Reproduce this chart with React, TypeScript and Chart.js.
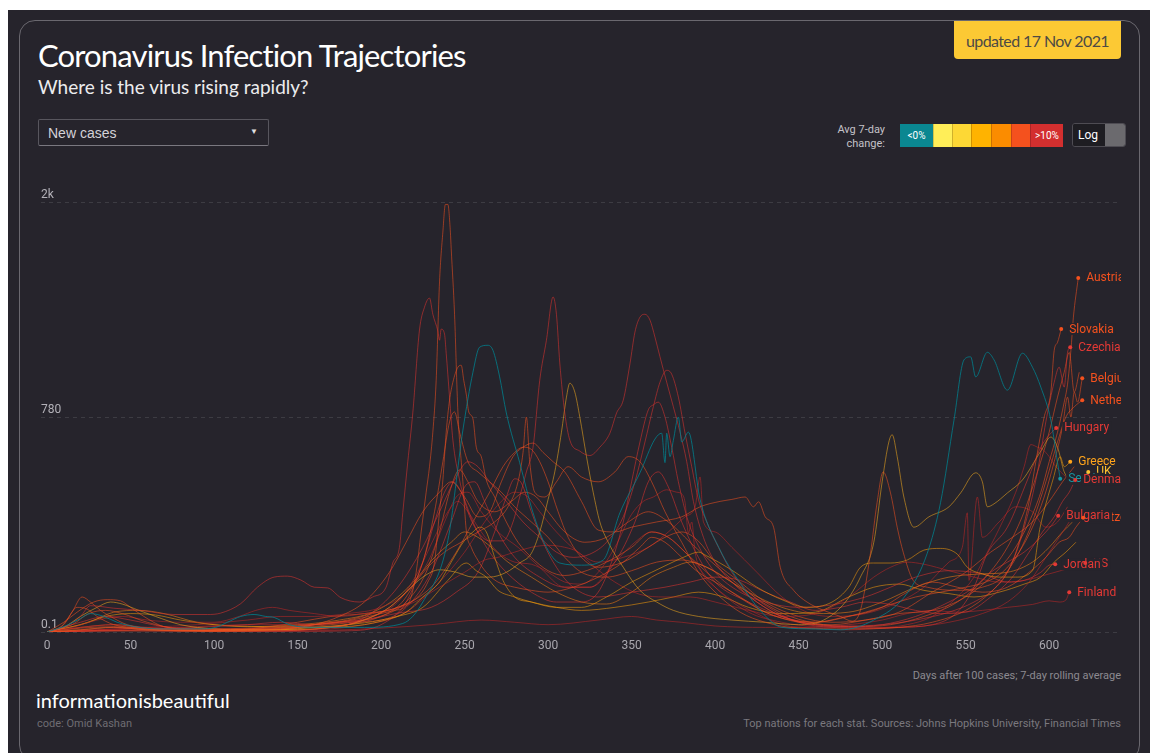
import React, { useEffect, useRef } from "react";
import { Chart, LineController, LineElement, PointElement, LinearScale } from "chart.js";

type Pt = [number, number];

// ---------- data: [day after 100 cases, new cases per million (7-day avg)] ----------
const austria: Pt[] = [[0,0.1],[10,9],[18,44],[24,40],[30,24],[40,9],[55,4],[80,1],[110,2],[140,5],[160,9],[180,17],[195,30],[210,44],[222,70],[228,112],[232,175],[235,360],[237,492],[239,708],[241,863],[243,953],[246,1030],[248,1040],[249.5,963],[251,893],[252.5,805],[255,772],[257,638],[260,595],[263,492],[268,420],[275,320],[282,244],[290,191],[300,147],[310,132],[320,142],[335,175],[350,226],[362,282],[372,262],[382,209],[395,142],[410,83],[430,33],[450,13],[470,9],[490,17],[510,30],[530,37],[550,70],[565,127],[578,209],[588,320],[595,440],[600,572],[605,708],[609,853],[611,943],[613,1118],[614.5,1297],[617.4,1517]];
const slovakia: Pt[] = [[0,0.1],[30,1],[60,1],[100,0.5],[140,1],[170,5],[190,17],[205,44],[218,97],[228,158],[238,209],[248,244],[258,282],[268,320],[276,380],[282,484],[285,614],[287,780],[289,572],[292,440],[298,420],[305,484],[312,550],[320,505],[330,484],[340,527],[348,595],[355,572],[362,484],[370,360],[380,244],[390,142],[400,83],[415,33],[430,13],[450,4],[480,3],[510,5],[530,13],[550,37],[565,83],[575,142],[582,244],[588,402],[592,572],[597,780],[601,903],[603,1118],[605,1161],[607.2,1232]];
const czechia: Pt[] = [[0,0.1],[10,5],[20,24],[26,48],[40,42],[56,37],[76,28],[96,28],[104,31],[116,53],[126,97],[136,127],[144,130],[152,118],[160,97],[168,95],[176,68],[187,57],[195,70],[203,97],[207,172],[211,226],[213,356],[216,572],[219,800],[223,1227],[226,1352],[229,1403],[231,1313],[234,1221],[235,1172],[236,1232],[238,1205],[239,1103],[241,878],[243,671],[247,492],[252,360],[258,282],[265,249],[273,249],[279,320],[283,420],[287,527],[291,638],[295,963],[299,1172],[303,1409],[305,1313],[307,1052],[310,800],[313,671],[319,620],[325,600],[331,638],[337,703],[341,800],[345,863],[349,1047],[352,1216],[355,1297],[358,1313],[361,1281],[364,1188],[367,1084],[371,953],[375,830],[379,708],[383,572],[387,402],[393,262],[400,175],[410,112],[425,57],[440,24],[460,9],[480,7],[500,9],[520,17],[540,33],[555,57],[568,97],[578,175],[586,320],[593,527],[598,757],[603,953],[606,1030],[609,928],[611,1108],[612.6,1135]];
const belgium: Pt[] = [[0,0.1],[8,5],[15,33],[21,70],[26,57],[32,37],[38,24],[48,9],[60,4],[80,3],[100,3],[120,4],[140,6],[160,9],[175,13],[190,22],[200,30],[208,37],[214,44],[218,70],[221,142],[224,282],[227,440],[229,550],[231,708],[233,963],[235,1494],[237,1784],[238.5,1950],[240,1950],[241.5,1784],[242,1685],[244,1313],[246,805],[249,484],[251,289],[254,226],[258,181],[263,142],[270,112],[280,97],[290,88],[300,83],[315,97],[330,127],[345,175],[355,226],[362,262],[370,244],[380,191],[390,142],[400,112],[415,70],[430,33],[445,17],[460,13],[475,21],[490,33],[505,51],[520,70],[535,83],[550,97],[562,112],[572,142],[582,209],[590,300],[597,420],[603,572],[608,733],[611,878],[613,780],[615,903],[617,853],[619.8,973]];
const netherlands: Pt[] = [[0,0.1],[15,9],[25,30],[35,37],[45,30],[60,13],[80,3],[110,2],[140,3],[160,9],[175,24],[190,57],[205,142],[215,244],[225,360],[235,440],[242,484],[250,420],[258,340],[265,360],[272,484],[279,595],[285,638],[291,657],[297,614],[303,572],[310,527],[320,402],[330,289],[340,282],[350,300],[365,320],[380,340],[391,380],[403,402],[410,410],[418,420],[423,380],[426,400],[430,340],[435,300],[439,158],[447,88],[455,57],[465,37],[475,24],[482,15],[487,37],[493,205],[497,398],[500.6,527],[505,437],[509,300],[512.6,209],[518.6,117],[527,97],[545,88],[560,97],[572,127],[582,209],[590,320],[598,484],[605,662],[610,780],[615,830],[619.8,863]];
const hungary: Pt[] = [[0,0.1],[20,2],[40,5],[60,2],[100,1],[140,1],[165,4],[180,9],[195,33],[210,97],[225,226],[235,360],[245,505],[252,572],[258,550],[265,484],[275,402],[285,320],[295,262],[305,209],[315,191],[325,202],[335,244],[345,340],[352,484],[358,662],[363,830],[367,953],[371,1014],[374,994],[378,878],[382,703],[386,550],[390,410],[395,320],[402,226],[410,142],[420,83],[435,37],[450,13],[470,5],[490,4],[510,5],[530,9],[545,33],[555,97],[563,205],[575,300],[587,492],[595,638],[599,685],[604.2,728]];
const greece: Pt[] = [[0,0.1],[20,2],[40,5],[60,2],[100,1],[140,2],[160,5],[180,9],[200,17],[215,33],[225,70],[235,112],[242,175],[250,251],[255,282],[259,300],[263,282],[268,191],[273,117],[280,70],[290,57],[305,44],[320,44],[335,70],[350,112],[362,142],[372,168],[383,196],[390,209],[395,196],[402,175],[412,142],[425,97],[440,63],[455,44],[470,57],[480,97],[487,158],[495,172],[505,172],[515,182],[525,216],[535,222],[545,202],[551,158],[560,137],[570,127],[580,127],[590,147],[594.6,300],[602.4,497],[606.6,595],[609,550],[612.6,572]];
const uk: Pt[] = [[0,0.1],[10,5],[20,24],[30,44],[38,57],[45,52],[55,37],[65,24],[80,9],[100,3],[120,2],[140,2],[160,3],[180,9],[195,24],[205,44],[215,83],[225,127],[235,150],[245,142],[255,127],[265,127],[275,142],[283,172],[290,205],[295,282],[300,410],[304,527],[308,708],[311,878],[313,948],[316,903],[319,780],[323,595],[327,440],[331,320],[336,244],[345,158],[355,88],[365,57],[375,37],[390,24],[410,17],[430,13],[450,9],[465,17],[478,57],[487,127],[495,244],[500,484],[504,662],[506,696],[509,595],[513,420],[519,300],[528,340],[540,380],[547,437],[556,523],[560,484],[563,380],[567,392],[575,437],[584,492],[595,620],[601,685],[605,638],[609,527],[614,484],[618,476],[623.4,527]];
const serbia: Pt[] = [[0,0.1],[12,8],[20,20],[26,30],[34,24],[42,13],[55,5],[70,3],[90,3],[101,5],[108,13],[116,24],[124,28],[131,24],[136,22],[145,9],[160,5],[190,5],[213,11],[225,57],[240,251],[249,718],[255,1004],[259,1135],[264,1145],[267,1118],[271,980],[275,800],[283,568],[291,356],[299,226],[307,172],[320,165],[333,182],[343,356],[355,523],[364,676],[368,703],[370,568],[371,703],[373,595],[375,670],[378,780],[380,662],[384,708],[391,410],[403,216],[415,109],[427,37],[440,5],[460,3],[475,2],[495,17],[515,80],[527,205],[535,398],[543,765],[549,1068],[553,1084],[556,980],[563,1108],[567,1068],[575,913],[584,1103],[590,1030],[595,928],[601,765],[605,568],[606.6,497]];
const denmark: Pt[] = [[0,0.1],[20,13],[35,24],[50,17],[70,6],[100,3],[140,3],[170,13],[190,17],[210,31],[230,44],[245,83],[258,142],[268,282],[275,420],[280,497],[284,479],[290,360],[297,244],[305,158],[315,97],[330,70],[350,83],[370,97],[385,112],[400,127],[415,117],[430,83],[445,57],[460,37],[475,44],[490,57],[505,51],[520,37],[535,30],[550,33],[565,70],[578,127],[588,209],[596,282],[603,340],[608,402],[612,440],[615.6,492]];
const bulgaria: Pt[] = [[0,0.1],[30,1],[60,2],[90,5],[120,9],[140,13],[160,9],[180,13],[200,17],[215,44],[230,142],[242,320],[250,462],[256,484],[262,402],[270,282],[280,191],[295,127],[310,97],[325,97],[340,175],[352,320],[360,484],[366,527],[372,462],[380,320],[390,191],[400,112],[420,57],[440,24],[460,9],[480,6],[500,9],[520,24],[540,57],[555,97],[565,142],[575,175],[585,209],[592,244],[598,282],[602,312],[605.4,344]];
const switzerland: Pt[] = [[0,0.1],[10,13],[18,33],[28,57],[36,63],[44,60],[50,44],[58,24],[70,6],[100,1],[130,3],[150,5],[170,9],[190,17],[205,33],[215,70],[225,175],[232,360],[237,572],[241,757],[244,805],[247,708],[252,572],[258,527],[265,484],[272,440],[280,380],[290,320],[300,262],[310,191],[320,142],[335,127],[350,147],[365,175],[380,182],[395,158],[410,112],[425,57],[440,24],[460,13],[480,24],[500,44],[515,83],[530,112],[545,97],[560,83],[575,97],[588,142],[598,191],[606,244],[612,262],[616,300],[620.4,336]];
const jordan: Pt[] = [[0,0.1],[50,1],[100,0.5],[150,0.5],[180,1],[200,9],[215,57],[225,175],[232,320],[238,440],[243,484],[248,440],[255,320],[265,209],[275,142],[290,83],[305,57],[320,57],[330,83],[338,175],[345,320],[350,484],[355,662],[360,815],[363,840],[366,853],[370,780],[374,638],[378,484],[384,320],[392,209],[400,142],[415,83],[430,57],[450,44],[470,50],[490,70],[505,97],[520,127],[540,147],[560,137],[575,112],[585,117],[595,142],[600,165],[603.6,168]];
const us: Pt[] = [[0,0.1],[15,5],[30,17],[45,24],[60,17],[80,13],[100,13],[115,24],[125,37],[135,44],[145,37],[160,30],[175,24],[190,30],[205,37],[220,57],[235,97],[250,142],[262,182],[270,191],[280,209],[290,226],[300,233],[310,226],[318,209],[328,158],[340,112],[355,77],[370,70],[385,70],[400,57],[420,37],[440,24],[460,30],[480,70],[495,127],[505,158],[515,175],[525,168],[540,147],[555,127],[570,112],[585,117],[600,137],[612,155],[621.6,172]];
const finland: Pt[] = [[0,0.1],[20,5],[40,9],[60,5],[100,1],[150,1],[200,4],[230,9],[260,17],[280,13],[300,9],[330,17],[350,24],[365,17],[380,13],[400,7],[430,5],[460,5],[480,9],[500,17],[515,30],[530,37],[545,33],[560,37],[575,44],[590,51],[600,60],[606,57],[610,62],[612,83]];
const romania: Pt[] = [[0,0.1],[30,2],[60,5],[90,9],[120,17],[140,24],[160,24],[180,30],[200,44],[215,83],[228,175],[238,320],[245,420],[252,440],[260,360],[270,282],[282,226],[295,158],[310,97],[325,97],[340,175],[352,244],[362,282],[372,262],[385,191],[400,97],[420,33],[440,13],[460,6],[480,5],[500,5],[515,9],[530,24],[545,70],[555,127],[563,209],[572,320],[580,440],[585,550],[589,650],[593,638],[596,628],[600,595],[604,550],[610,505]];
const poland: Pt[] = [[0,0.1],[40,2],[80,5],[120,9],[150,9],[175,13],[195,24],[210,57],[222,142],[232,262],[240,360],[246,402],[252,360],[260,282],[270,209],[280,175],[290,168],[300,142],[310,112],[320,106],[330,142],[340,226],[350,350],[357,402],[363,420],[371,450],[377,440],[380,433],[382,398],[384,278],[386,320],[388,209],[392,142],[400,97],[412,57],[425,30],[440,9],[460,4],[480,2],[500,4],[520,6],[540,13],[560,30],[575,57],[588,112],[598,191],[606,262],[612,320]];
const croatia: Pt[] = [[0,0.1],[20,5],[40,9],[60,4],[100,1],[130,5],[150,13],[170,24],[190,30],[210,44],[230,97],[245,209],[255,320],[265,440],[273,550],[280,614],[285,638],[290,628],[295,572],[300,484],[306,360],[312,262],[320,191],[330,158],[345,175],[360,226],[370,262],[380,282],[390,248],[400,175],[415,112],[430,57],[450,24],[470,13],[490,17],[510,33],[530,83],[550,142],[565,209],[578,262],[590,320],[600,402],[608,484],[615,550]];
const slovenia: Pt[] = [[0,0.1],[20,4],[40,6],[70,2],[110,1],[150,4],[180,9],[200,24],[215,57],[227,142],[235,282],[241,440],[247,536],[252,484],[258,402],[268,360],[278,402],[286,440],[293,420],[300,360],[310,282],[322,244],[335,262],[348,320],[360,360],[372,320],[385,244],[398,175],[412,112],[428,57],[445,24],[465,9],[485,6],[505,9],[525,24],[545,57],[562,127],[575,226],[585,360],[593,527],[600,708],[605,878],[609,1004],[612,1108],[615,903],[618,1004]];
const portugal: Pt[] = [[0,0.1],[20,9],[35,24],[50,30],[65,27],[80,17],[100,9],[130,6],[160,5],[190,9],[210,24],[225,44],[240,117],[251,172],[257,147],[263,127],[270,88],[280,70],[290,57],[305,44],[320,37],[340,44],[360,57],[375,70],[390,83],[405,70],[420,44],[440,30],[460,33],[480,70],[495,97],[510,106],[525,88],[540,79],[555,70],[570,83],[585,106],[595,127],[603,175],[610,209],[616,244]];
const ireland: Pt[] = [[0,0.1],[25,13],[40,33],[55,37],[70,30],[90,13],[120,6],[150,9],[175,17],[195,33],[210,70],[222,127],[232,191],[242,244],[250,282],[258,262],[266,226],[276,175],[290,127],[305,83],[320,57],[335,52],[350,83],[362,127],[375,158],[385,175],[395,158],[405,127],[420,83],[440,44],[460,30],[480,33],[500,57],[520,97],[540,127],[560,137],[575,142],[590,175],[600,226],[608,282],[614,320]];
const lithuania: Pt[] = [[0,0.1],[30,2],[60,4],[100,2],[150,2],[190,9],[215,33],[235,112],[250,209],[262,320],[272,402],[280,440],[288,420],[295,360],[305,282],[318,209],[330,175],[345,191],[360,226],[372,282],[382,340],[388,380],[391,505],[393,320],[400,282],[410,226],[425,142],[440,70],[455,33],[470,24],[490,30],[510,57],[525,97],[540,175],[548,226],[551,356],[552,117],[557,420],[560,262],[570,320],[580,380],[590,360],[598,300],[605,320],[611,380]];

// ---------- axes ----------
const xMax = 643;
const xTickStep = 50;
const yMin = 0.1;
const yMax = 1965;
const yTickValues = [0.1, 780, 1965];
const yTickLabels = ["0.1", "780", "2k"];

// ---------- legend ----------
const legendColors = ["#0a8791", "#ffee58", "#fdd835", "#ffb300", "#fb8c00", "#f4511e", "#d32f2f"];
const legendWidths = [33, 19, 19, 20, 20, 19, 33];
const legendTexts = ["<0%", "", "", "", "", "", ">10%"];

const BG = "#26242c";

const RED = "222,52,48";
const DARK_RED = "190,40,40";
const ORANGE_RED = "240,80,32";
const AMBER = "245,155,10";
const UKC = "240,170,30";
const ORANGE = "240,125,20";
const TEAL = "0,131,143";

type Series = { name: string; data: Pt[]; rgb: string; text?: string; label: boolean };

const series: Series[] = [
  { name: "Serbia", data: serbia, rgb: TEAL, text: "#1597a1", label: true },
  { name: "Austria", data: austria, rgb: ORANGE_RED, text: "#f4511e", label: true },
  { name: "Slovakia", data: slovakia, rgb: ORANGE_RED, text: "#f4511e", label: true },
  { name: "Czechia", data: czechia, rgb: RED, text: "#e53935", label: true },
  { name: "Belgium", data: belgium, rgb: ORANGE_RED, text: "#f4511e", label: true },
  { name: "Netherlands", data: netherlands, rgb: ORANGE_RED, text: "#f4511e", label: true },
  { name: "Hungary", data: hungary, rgb: RED, text: "#e53935", label: true },
  { name: "Greece", data: greece, rgb: AMBER, text: "#ffa41b", label: true },
  { name: "UK", data: uk, rgb: UKC, text: "#fdc02f", label: true },
  { name: "Denmark", data: denmark, rgb: RED, text: "#e53935", label: true },
  { name: "Bulgaria", data: bulgaria, rgb: RED, text: "#e53935", label: true },
  { name: "Switzerland", data: switzerland, rgb: ORANGE_RED, text: "#f4511e", label: true },
  { name: "Jordan", data: jordan, rgb: RED, text: "#e53935", label: true },
  { name: "US", data: us, rgb: DARK_RED, text: "#e53935", label: true },
  { name: "Finland", data: finland, rgb: DARK_RED, text: "#e53935", label: true },
  { name: "Romania", data: romania, rgb: DARK_RED, label: false },
  { name: "Poland", data: poland, rgb: DARK_RED, label: false },
  { name: "Croatia", data: croatia, rgb: ORANGE_RED, label: false },
  { name: "Slovenia", data: slovenia, rgb: ORANGE_RED, label: false },
  { name: "Portugal", data: portugal, rgb: AMBER, label: false },
  { name: "Ireland", data: ireland, rgb: ORANGE, label: false },
  { name: "Lithuania", data: lithuania, rgb: DARK_RED, label: false },
];

const labelOrder = ["Austria", "Slovakia", "Czechia", "Belgium", "Netherlands", "Hungary", "Greece", "UK", "Serbia", "Switzerland", "US", "Finland", "Denmark", "Bulgaria", "Jordan"];

// ---------- power scale (exponent 0.75) ----------
const K = 0.75;
class PowScale extends LinearScale {
  static id = "pow";
  _pmin = 0;
  _pmax = 1;
  configure() {
    super.configure();
    this._pmin = Math.pow(Math.max(this.min, 0), K);
    this._pmax = Math.pow(Math.max(this.max, 0), K);
  }
  getPixelForValue(value: number) {
    if (value === null || value === undefined || isNaN(value)) return NaN;
    const p = Math.pow(Math.max(value, 0), K);
    return this.getPixelForDecimal((p - this._pmin) / (this._pmax - this._pmin));
  }
  getValueForPixel(pixel: number) {
    const d = this.getDecimalForPixel(pixel);
    return Math.pow(this._pmin + d * (this._pmax - this._pmin), 1 / K);
  }
}

Chart.register(LineController, LineElement, PointElement, LinearScale, PowScale as any);

const gridPlugin = {
  id: "yGridLabels",
  beforeDatasetsDraw(chart: any) {
    const { ctx, chartArea, scales } = chart;
    const y = scales.y;
    ctx.save();
    ctx.lineWidth = 1;
    ctx.setLineDash([4, 4]);
    ctx.strokeStyle = "rgba(255,255,255,0.11)";
    yTickValues.forEach((v, i) => {
      const py = Math.round(y.getPixelForValue(v)) + 0.5;
      ctx.beginPath();
      ctx.moveTo(chartArea.left - 6, py);
      ctx.lineTo(chartArea.right, py);
      ctx.stroke();
      ctx.fillStyle = "#b3b1b8";
      ctx.font = "12px Roboto";
      ctx.textAlign = "left";
      ctx.textBaseline = "middle";
      ctx.fillText(yTickLabels[i], chartArea.left - 6, py - 8);
    });
    ctx.restore();
  },
};

const endLabelPlugin = {
  id: "endLabels",
  afterDatasetsDraw(chart: any) {
    const { ctx, chartArea } = chart;
    ctx.save();
    ctx.beginPath();
    ctx.rect(chartArea.left, chartArea.top - 40, chartArea.right - chartArea.left, chartArea.bottom - chartArea.top + 40);
    ctx.clip();
    ctx.font = "12px Roboto";
    ctx.textBaseline = "middle";
    ctx.textAlign = "left";
    const pts: { x: number; y: number; c: string }[] = [];
    labelOrder.forEach((name) => {
      const idx = series.findIndex((s) => s.name === name);
      if (idx < 0) return;
      const meta = chart.getDatasetMeta(idx);
      const el = meta.data[meta.data.length - 1];
      if (!el) return;
      const s = series[idx];
      const tx = el.x + 8;
      const w = ctx.measureText(name).width;
      ctx.fillStyle = BG;
      ctx.fillRect(tx - 2, el.y - 6, w + 4, 12);
      ctx.fillStyle = s.text || "#e53935";
      ctx.fillText(name, tx, el.y + 0.5);
      pts.push({ x: el.x, y: el.y, c: s.text || "#e53935" });
    });
    pts.forEach((p) => {
      ctx.beginPath();
      ctx.arc(p.x, p.y, 2, 0, Math.PI * 2);
      ctx.fillStyle = p.c;
      ctx.fill();
    });
    ctx.restore();
  },
};

const abs = (x: number, y: number): React.CSSProperties => ({ position: "absolute", left: x - 8, top: y - 10 });

export default function App() {
  const ref = useRef<HTMLCanvasElement>(null);
  useEffect(() => {
    if (!ref.current) return;
    const chart = new Chart(ref.current, {
      type: "line",
      data: {
        datasets: series.map((s) => ({
          label: s.name,
          data: s.data.map(([x, y]) => ({ x, y })),
          borderColor: `rgba(${s.rgb},${s.rgb === TEAL ? 0.78 : 0.56})`,
          borderWidth: 1,
          pointRadius: 0,
          cubicInterpolationMode: "monotone" as const,
          fill: false,
        })),
      },
      options: {
        responsive: false,
        maintainAspectRatio: false,
        animation: false,
        devicePixelRatio: 1,
        layout: { padding: { left: 27, right: 0, top: 32, bottom: 4 } },
        events: [],
        plugins: { legend: { display: false }, tooltip: { enabled: false } } as any,
        scales: {
          x: {
            type: "linear",
            min: 0,
            max: xMax,
            grid: { display: false, drawTicks: false },
            border: { display: false },
            ticks: {
              stepSize: xTickStep,
              color: "#a9a7ae",
              font: { family: "Roboto", size: 12 },
              padding: 7,
              maxRotation: 0,
              autoSkip: false,
            },
            afterBuildTicks: (s: any) => {
              s.ticks = s.ticks.filter((t: any) => t.value % xTickStep === 0);
            },
            afterFit: (s: any) => {
              s.height = 24;
            },
          },
          y: {
            type: "pow" as any,
            display: false,
            min: yMin,
            max: yMax,
            bounds: "data",
            afterBuildTicks: (s: any) => {
              s.ticks = yTickValues.map((v) => ({ value: v }));
            },
          } as any,
        },
      },
      plugins: [gridPlugin, endLabelPlugin],
    });
    return () => chart.destroy();
  }, []);

  let lx = 900;
  return (
    <div style={{ position: "fixed", left: 8, top: 10, right: 0, bottom: 0, background: BG, overflow: "hidden", fontFamily: "Lato, sans-serif" }}>
      <div style={{ position: "absolute", left: 11, top: 10, width: 1121, height: 741, boxSizing: "border-box", border: "1.5px solid #6a686f", borderRadius: 16 }} />
      <div style={{ ...abs(954, 21), width: 167, height: 38, background: "#fcc934", borderRadius: "0 0 4px 4px", display: "flex", alignItems: "center", justifyContent: "center", color: "#4d4a45", fontSize: 16, letterSpacing: -0.6, whiteSpace: "nowrap" }}>
        updated 17 Nov 2021
      </div>
      <div style={{ ...abs(38, 40), fontSize: 31, lineHeight: "31px", color: "#ffffff", letterSpacing: -0.85, whiteSpace: "nowrap" }}>
        Coronavirus Infection Trajectories
      </div>
      <div style={{ ...abs(38, 77), fontSize: 19, lineHeight: "19px", color: "#ececee", whiteSpace: "nowrap" }}>
        Where is the virus rising rapidly?
      </div>
      <div style={{ ...abs(38, 119), width: 231, height: 27, boxSizing: "border-box", border: "1px solid #58565e", borderBottom: "1.5px solid #7a7880", borderRadius: 2, fontFamily: "'Liberation Sans', Arial, sans-serif", fontSize: 14, color: "#d4d2d8", display: "flex", alignItems: "center", paddingLeft: 9 }}>
        New cases
        <span style={{ position: "absolute", right: 10, top: 7, fontSize: 8, color: "#e0e0e0" }}>▼</span>
      </div>
      <div style={{ position: "absolute", right: 1150 - 885, top: 123 - 10, fontFamily: "Roboto, sans-serif", fontSize: 11, lineHeight: "14px", color: "#c4c2c8", textAlign: "right", whiteSpace: "nowrap" }}>
        Avg 7-day<br />change:
      </div>
      {legendColors.map((c, i) => {
        const left = lx;
        lx += legendWidths[i];
        return (
          <div key={i} style={{ ...abs(left, 124), width: legendWidths[i], height: 23, background: c, boxSizing: "border-box", borderLeft: i > 0 ? "1px solid rgba(0,0,0,0.18)" : "none", color: "#ffffff", fontFamily: "Roboto, sans-serif", fontSize: 10, display: "flex", alignItems: "center", justifyContent: "center" }}>
            {legendTexts[i]}
          </div>
        );
      })}
      <div style={{ ...abs(1072, 123), width: 54, height: 24, boxSizing: "border-box", border: "1px solid #4e4c53", borderRadius: 3, overflow: "hidden", display: "flex" }}>
        <div style={{ width: 32, background: "#1e1d22", color: "#ffffff", fontFamily: "Roboto, sans-serif", fontSize: 12, display: "flex", alignItems: "center", paddingLeft: 5, boxSizing: "border-box" }}>Log</div>
        <div style={{ flex: 1, background: "#6b6a6e" }} />
      </div>
      <canvas ref={ref} width={1101} height={490} style={{ ...abs(20, 170), width: 1101, height: 490 }} />
      <div style={{ position: "absolute", right: 1150 - 1121, top: 669 - 10, fontFamily: "Roboto, sans-serif", fontSize: 11, color: "#8c8a90", whiteSpace: "nowrap" }}>
        Days after 100 cases; 7-day rolling average
      </div>
      <div style={{ ...abs(36, 690), fontSize: 20, lineHeight: "20px", color: "#ffffff", whiteSpace: "nowrap" }}>
        informationisbeautiful
      </div>
      <div style={{ ...abs(37, 717), fontFamily: "Roboto, sans-serif", fontSize: 11, color: "#6f6d73", whiteSpace: "nowrap" }}>
        code: Omid Kashan
      </div>
      <div style={{ position: "absolute", right: 1150 - 1121, top: 717 - 10, fontFamily: "Roboto, sans-serif", fontSize: 11, color: "#7a787e", whiteSpace: "nowrap" }}>
        Top nations for each stat. Sources: Johns Hopkins University, Financial Times
      </div>
    </div>
  );
}
